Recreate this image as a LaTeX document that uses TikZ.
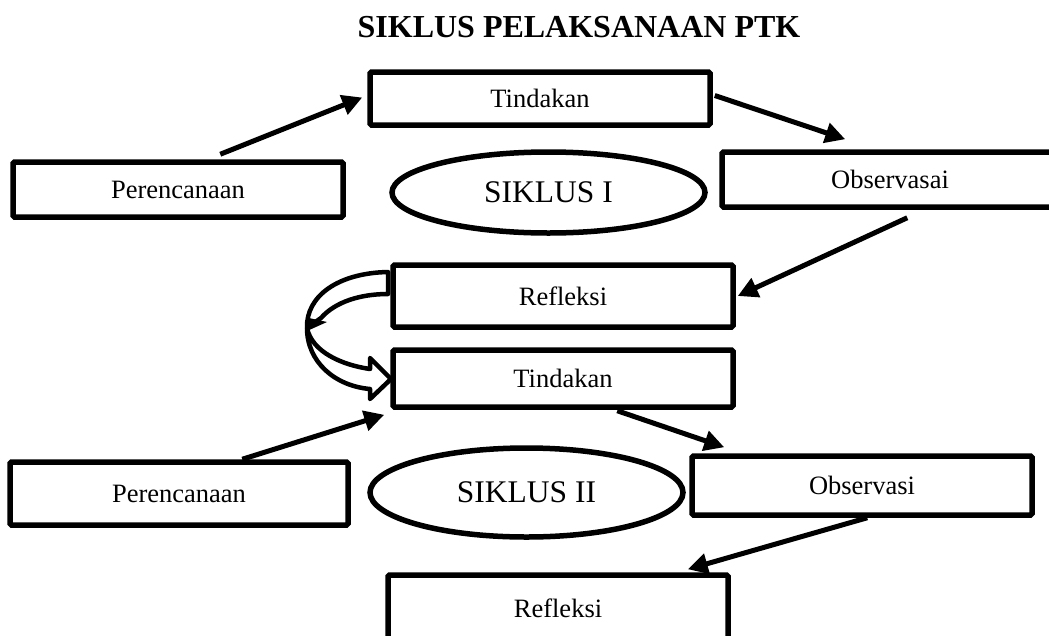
\documentclass[tikz,border=0pt]{standalone}
\usepackage{fontspec}
\setmainfont{Liberation Serif}
\usetikzlibrary{shapes.geometric,arrows.meta,calc}
\begin{document}
\begin{tikzpicture}[x=1pt,y=-1pt,
  box/.style={draw,line width=5.5pt,rounded corners=1.5pt,inner sep=0pt,font=\fontsize{26.5}{30}\selectfont},
  oval/.style={draw,ellipse,line width=5.5pt,inner sep=0pt,font=\fontsize{31.5}{36}\selectfont},
  conn/.style={line width=5pt,-{Triangle[length=20pt,width=20pt]}},
  blockarrow/.style={draw,fill=white,line width=4.5pt,line join=round},
]
\useasboundingbox (0,0) rectangle (1049,635);
\fill[white] (0,0) rectangle (1049,635);
\clip (0,0) rectangle (1049,635);

% title
\node[anchor=base,font=\fontsize{32}{38}\selectfont\bfseries,inner sep=0pt] (title) at (579,37) {SIKLUS PELAKSANAAN PTK};

% cycle I
\node[box,minimum width=340pt,minimum height=53pt] (T1) at (540,98.5) {Tindakan};
\node[box,minimum width=330pt,minimum height=55pt] (P1) at (178,189.5) {Perencanaan};
\node[oval,minimum width=313pt,minimum height=81pt] (E1) at (548.5,192.5) {SIKLUS I};
\node[box,minimum width=336pt,minimum height=55pt] (O1) at (890,179.5) {Observasai};
\node[box,minimum width=340pt,minimum height=62pt] (R1) at (563,296) {Refleksi};

% cycle II
\node[box,minimum width=340pt,minimum height=57pt] (T2) at (563,378.5) {Tindakan};
\node[box,minimum width=338pt,minimum height=63pt] (P2) at (179,493.5) {Perencanaan};
\node[oval,minimum width=313pt,minimum height=89pt] (E2) at (526.5,492.5) {SIKLUS II};
\node[box,minimum width=340pt,minimum height=59pt] (O2) at (862,485.5) {Observasi};
\node[box,minimum width=340pt,minimum height=66pt] (R2) at (558,608) {Refleksi};

% connectors cycle I
\draw[conn] ([xshift=210pt,yshift=5pt]P1.north west) -- ([xshift=-5pt,yshift=1pt]T1.west);
\draw[conn] ([xshift=2pt,yshift=3pt]T1.east) -- ([xshift=126pt,yshift=10pt]O1.north west);
\draw[conn] ([xshift=188pt,yshift=-8pt]O1.south west) -- ([xshift=2pt]R1.east);

% connectors cycle II
\draw[conn] ([xshift=235pt,yshift=0pt]P2.north west) -- ([xshift=-6pt,yshift=-5pt]T2.south west);
\draw[conn] ([xshift=227pt,yshift=-1pt]T2.south west) -- ([xshift=35pt,yshift=6pt]O2.north west);
\draw[conn] ([xshift=178pt]O2.south west) -- ([xshift=-43pt,yshift=3pt]R2.north east);

% curved block arrow from Refleksi back to Tindakan
\path[blockarrow] (388,272) -- (388,294)
  .. controls (360,294) and (335,302) .. (321,318) -- (307,328)
  .. controls (306,296) and (338,273) .. (388,272) -- cycle;
\path[blockarrow] (307,328)
  .. controls (307,362) and (335,386) .. (370,389) -- (370,399) -- (391,379) -- (370,358) -- (370,369)
  .. controls (342,365) and (312,352) .. (307,328) -- cycle;
\fill (309,318) -- (327,322) -- (307,331) -- cycle;
\end{tikzpicture}
\end{document}
